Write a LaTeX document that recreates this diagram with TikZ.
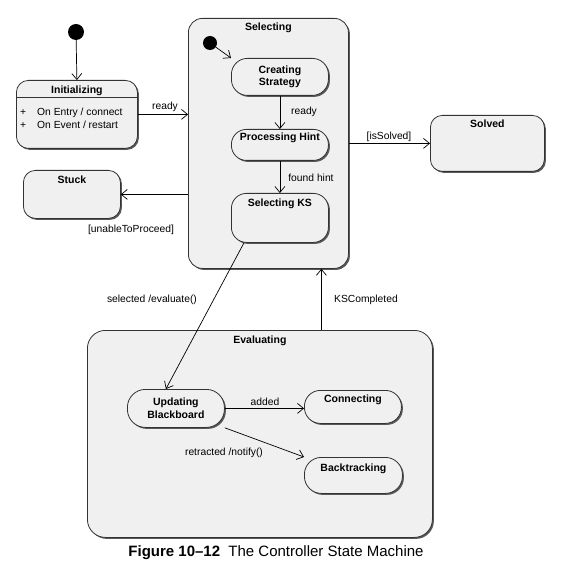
\documentclass[tikz,border=0pt]{standalone}
\usepackage{fontspec}
\setmainfont{Liberation Sans}
\usetikzlibrary{arrows.meta,shadows,calc}
\definecolor{statefill}{HTML}{F0F0F0}
\definecolor{stateline}{HTML}{333333}
\tikzset{
  state/.style={draw=stateline, line width=0.8pt, fill=statefill,
    drop shadow={shadow xshift=1.5pt, shadow yshift=-1.5pt, fill=black!65, opacity=1},
    inner sep=0pt, anchor=north west},
  boxstate/.style={state, rounded corners=12pt},
  pillstate/.style={state, rounded corners=16pt, font=\fontsize{10.5}{12.5}\selectfont\bfseries, align=center},
  title/.style={font=\fontsize{10.5}{12.5}\selectfont\bfseries, inner sep=0pt, anchor=base},
  lbl/.style={font=\fontsize{10.3}{12}\selectfont, inner sep=0pt},
  arr/.style={draw=black, line width=0.7pt, -{Straight Barb[length=6pt,width=10pt,line width=0.7pt]}},
  initdot/.style={circle, fill=black, inner sep=0pt},
}
\begin{document}
\begin{tikzpicture}[x=1pt,y=-1pt]
\useasboundingbox (0,0) rectangle (564,569);
% top-level states
\node[initdot, minimum size=16pt] (start) at (76,32) {};
\node[boxstate, minimum width=121pt, minimum height=68pt] (init) at (16,80) {};
\node[title] (initT) at ($(init.north)+(0,13.5)$) {Initializing};
\draw[stateline, line width=0.8pt] ($(init.north west)+(0,17)$) -- ($(init.north east)+(0,17)$);
\node[lbl, anchor=north west, align=left, font=\fontsize{10.3}{13}\selectfont] (initB) at (20,108)
  {\makebox[17pt][l]{+}On Entry / connect\\\makebox[17pt][l]{+}On Event / restart};

\node[boxstate, minimum width=97pt, minimum height=48pt] (stuck) at (23,170) {};
\node[title] (stuckT) at ($(stuck.north)+(0,14)$) {Stuck};

\node[boxstate, rounded corners=14pt, minimum width=160pt, minimum height=250pt] (sel) at (188,18) {};
\node[title] (selT) at ($(sel.north)+(0,13)$) {Selecting};

\node[boxstate, minimum width=114pt, minimum height=56pt] (solved) at (430,115) {};
\node[title] (solvedT) at ($(solved.north)+(0,13)$) {Solved};

\node[boxstate, rounded corners=18pt, minimum width=345pt, minimum height=207pt] (ev) at (87,330) {};
\node[title] (evT) at ($(ev.north)+(0,13)$) {Evaluating};

% inside Selecting
\node[initdot, minimum size=14pt] (start2) at (210,43) {};
\node[pillstate, minimum width=97pt, minimum height=37pt] (cs) at (231,58) {Creating\\Strategy};
\node[pillstate, rounded corners=15pt, minimum width=97pt, minimum height=31pt] (ph) at (231,129) {};
\node[title] (phT) at ($(ph.north)+(0,12)$) {Processing Hint};
\node[boxstate, rounded corners=15pt, minimum width=97pt, minimum height=49pt] (ks) at (231,193) {};
\node[title] (ksT) at ($(ks.north)+(0,14)$) {Selecting KS};

% inside Evaluating
\node[pillstate, rounded corners=18pt, minimum width=97pt, minimum height=38pt] (ub) at (127,389) {Updating\\Blackboard};
\node[pillstate, minimum width=97pt, minimum height=33pt] (con) at (304,390) {};
\node[title] (conT) at ($(con.north)+(0,12)$) {Connecting};
\node[pillstate, rounded corners=17pt, minimum width=98pt, minimum height=36pt] (bt) at (304,457) {};
\node[title] (btT) at ($(bt.north)+(0,14)$) {Backtracking};

% connectors
\draw[arr] (start) -- (init.north);
\draw[arr] (init.east) -- (init.east -| sel.west);
\node[lbl] (lReady1) at (165,107) {ready};
\draw[arr] (sel.west |- stuck.east) -- (stuck.east);
\node[lbl] (lUnable) at (131,230) {[unableToProceed]};
\draw[arr] (sel.east |- solved.west) -- (solved.west);
\node[lbl] (lSolved) at (389,137) {[isSolved]};
\draw[arr] (start2) -- (cs.north west);
\draw[arr] (cs.south) -- (ph.north);
\node[lbl] (lReady2) at (304,112) {ready};
\draw[arr] (ph.south) -- (ks.north);
\node[lbl] (lFound) at (311,178) {found hint};
\draw[arr] ($(ks.south west)+(13,0)$) -- ($(ub.north)+(-10,0)$);
\node[lbl] (lSel) at (152,300) {selected /evaluate()};
\coordinate (ksc) at ($(sel.south)+(53,0)$);
\draw[arr] (ksc |- ev.north) -- (ksc);
\node[lbl] (lKS) at (366,300) {KSCompleted};
\draw[arr] (ub.east) -- (ub.east -| con.west);
\node[lbl] (lAdded) at (265,402) {added};
\draw[arr] (ub.south east) -- (bt.north west);
\node[lbl] (lRetr) at (224,453) {retracted /notify()};

% caption
\node[inner sep=0pt, font=\fontsize{15}{17}\selectfont] (cap) at (276,553)
  {\textbf{Figure 10–12}\ \ The Controller State Machine};
\end{tikzpicture}
\end{document}
